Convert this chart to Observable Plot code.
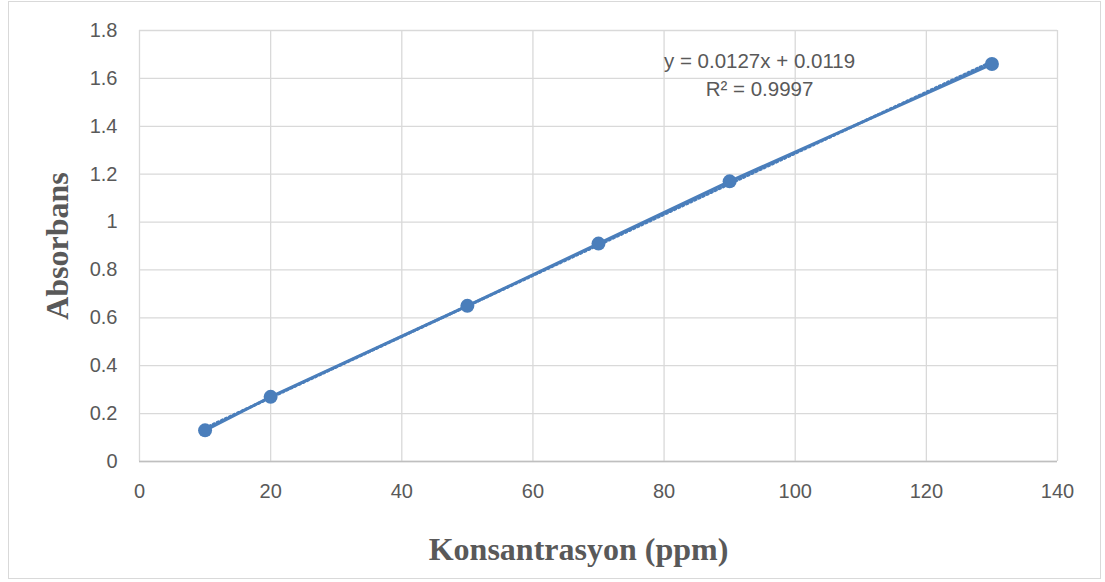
<!DOCTYPE html>
<html>
<head>
<meta charset="utf-8">
<script src="https://cdn.jsdelivr.net/npm/d3@7"></script>
<script src="https://cdn.jsdelivr.net/npm/@observablehq/plot@0.6"></script>
<style>
  html, body { margin: 0; padding: 0; background: #fff; }
  #wrap { position: relative; width: 1105px; height: 582px; }
  #border { position: absolute; left: 8px; top: 1px; width: 1093px; height: 578px; border: 1px solid #d9d9d9; box-sizing: border-box; pointer-events: none; }
</style>
</head>
<body>
<div id="wrap"><div id="border"></div></div>
<script>
const concentrations = [10, 20, 50, 70, 90, 130];
const absorbances = [0.13, 0.27, 0.65, 0.91, 1.17, 1.66];
const xTicks = [0, 20, 40, 60, 80, 100, 120, 140];
const yTicks = [0, 0.2, 0.4, 0.6, 0.8, 1, 1.2, 1.4, 1.6, 1.8];
const equationLines = ["y = 0.0127x + 0.0119", "R² = 0.9997"];
const xTitle = "Konsantrasyon (ppm)";
const yTitle = "Absorbans";

const data = concentrations.map((c, i) => ({x: c, y: absorbances[i]}));
const color = "#4a7ebb";
const tickFont = "Liberation Sans, Arial, sans-serif";
const titleFont = "Liberation Serif, Times New Roman, serif";
const fmt = d => String(d);

const chart = Plot.plot({
  width: 1105,
  height: 582,
  marginLeft: 139,
  marginRight: 48,
  marginTop: 30,
  marginBottom: 121,
  style: {fontFamily: tickFont, fontSize: "20px", color: "#595959", background: "transparent"},
  x: {domain: [0, 140]},
  y: {domain: [0, 1.8]},
  marks: [
    Plot.gridX(xTicks, {stroke: "#d9d9d9", strokeOpacity: 1, strokeWidth: 1.3}),
    Plot.gridY(yTicks, {stroke: "#d9d9d9", strokeOpacity: 1, strokeWidth: 1.3}),
    Plot.ruleY([0], {stroke: "#bfbfbf", strokeWidth: 1.5}),
    Plot.axisX({ticks: xTicks, tickFormat: fmt, tickSize: 0, tickPadding: 22, label: null, fill: "#595959", fontSize: 20}),
    Plot.axisY({ticks: yTicks, tickFormat: fmt, tickSize: 0, tickPadding: 22, label: null, fill: "#595959", fontSize: 20}),
    Plot.linearRegressionY(data, {x: "x", y: "y", ci: 0, stroke: color, strokeWidth: 3, strokeDasharray: "1.5 3", strokeLinecap: "round"}),
    Plot.line(data, {x: "x", y: "y", stroke: color, strokeWidth: 3}),
    Plot.dot(data, {x: "x", y: "y", r: 7, fill: color, stroke: "none"}),
    Plot.text([equationLines[0]], {frameAnchor: "top-left", dx: 620, dy: 31, lineAnchor: "middle", text: d => d, textAnchor: "middle", fontSize: 20.5, fill: "#595959", fontFamily: tickFont}),
    Plot.text([equationLines[1]], {frameAnchor: "top-left", dx: 620, dy: 59, lineAnchor: "middle", text: d => d, textAnchor: "middle", fontSize: 20.5, fill: "#595959", fontFamily: tickFont}),
    Plot.text([xTitle], {frameAnchor: "bottom", dx: -20, dy: 88, lineAnchor: "middle", textAnchor: "middle", text: d => d, fontSize: 32, fontWeight: "bold", fill: "#595959", fontFamily: titleFont}),
    Plot.text([yTitle], {frameAnchor: "left", dx: -82, rotate: -90, lineAnchor: "middle", textAnchor: "middle", text: d => d, fontSize: 32, fontWeight: "bold", fill: "#595959", fontFamily: titleFont})
  ]
});
chart.style.position = "absolute";
chart.style.left = "0";
chart.style.top = "0";
document.getElementById("wrap").appendChild(chart);
</script>
</body>
</html>
